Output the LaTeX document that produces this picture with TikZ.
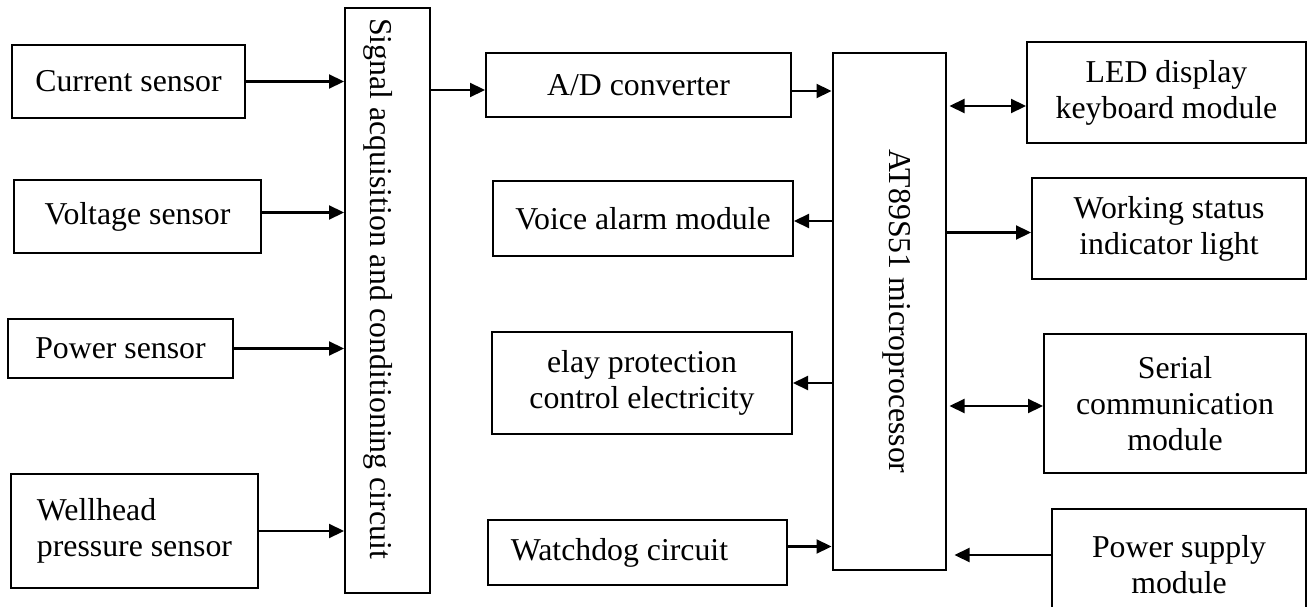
\documentclass[tikz,border=0pt]{standalone}
\usepackage{fontspec}
\setmainfont{Liberation Serif}
\usetikzlibrary{arrows.meta}
\tikzset{
  box/.style={draw, line width=2pt, inner sep=0pt, align=center,
    font=\fontsize{31.8}{36}\selectfont},
  txt/.style={inner sep=0pt, font=\fontsize{31.8}{36}\selectfont},
  tip/.style={Triangle[length=15pt,width=14pt]},
  arr/.style={line width=2.2pt, -{Triangle[length=15pt,width=14pt]}},
  darr/.style={line width=2.2pt, {Triangle[length=15pt,width=14pt]}-{Triangle[length=15pt,width=14pt]}},
}
\begin{document}
\begin{tikzpicture}[x=1pt,y=-1pt]
\useasboundingbox (0,0) rectangle (1307,607);

% sensors
\node[box, minimum width=233, minimum height=73] (cur) at (128.5,81.5) {Current sensor};
\node[box, minimum width=247, minimum height=73] (volt) at (137.5,216.5) {Voltage sensor};
\node[box, minimum width=225, minimum height=59] (pow) at (120.5,348.5) {Power sensor};
\node[box, align=left, minimum width=247, minimum height=114] (well) at (134.5,531) {Wellhead\\pressure sensor};

% signal conditioning
\node[box, minimum width=85, minimum height=585] (sig) at (387.5,300.5) {};
\node[txt, rotate=-90] (sigtxt) at ([xshift=-9.5pt, yshift=12pt]sig.center) {Signal acquisition and conditioning circuit};

% middle column
\node[box, minimum width=305, minimum height=64] (ad) at (638.5,85) {A/D converter};
\node[box, minimum width=300, minimum height=75] (voice) at (643,218.5) {Voice alarm module};
\node[box, minimum width=300, minimum height=102] (relay) at (642,383) {elay protection\\control electricity};
\node[box, minimum width=299, minimum height=65] (wd) at (637.5,552.5) {Watchdog circuit\hspace*{36pt}};

% microcontroller
\node[box, minimum width=113, minimum height=517] (mcu) at (889,311.5) {};
\node[txt, rotate=-90] (mcutxt) at ([xshift=8pt]mcu.center) {AT89S51 microprocessor};

% right column
\node[box, minimum width=279, minimum height=101] (led) at (1166.5,92.5) {LED display\\keyboard module};
\node[box, minimum width=274, minimum height=101] (work) at (1169,228.5) {Working status\\indicator light};
\node[box, minimum width=262, minimum height=139] (serial) at (1175,403.5) {Serial\\communication\\module};
\node[box, minimum width=254, minimum height=112] (psu) at (1179,565) {Power supply\\module};

% connections
\draw[arr] (cur.east) -- (cur.east -| sig.west);
\draw[arr] ([yshift=4pt]volt.east) -- ([yshift=4pt]volt.east -| sig.west);
\draw[arr] (pow.east) -- (pow.east -| sig.west);
\draw[arr] (well.east) -- (well.east -| sig.west);
\draw[arr] ([yshift=-5pt]ad.west -| sig.east) -- ([yshift=-5pt]ad.west);
\draw[arr] ([yshift=-6pt]ad.east) -- ([yshift=-6pt]ad.east -| mcu.west);
\draw[arr] ([yshift=-2.5pt]voice.east -| mcu.west) -- ([yshift=-2.5pt]voice.east);
\draw[arr] (relay.east -| mcu.west) -- (relay.east);
\draw[arr] ([yshift=6pt]wd.east) -- ([yshift=6pt]wd.east -| mcu.west);
\draw[darr, shorten <=3pt] ([yshift=-13.5pt]led.west -| mcu.east) -- ([yshift=-13.5pt]led.west);
\draw[arr] ([yshift=-4pt]work.west -| mcu.east) -- ([yshift=-4pt]work.west);
\draw[darr, shorten <=3pt] ([yshift=-2.5pt]serial.west -| mcu.east) -- ([yshift=-2.5pt]serial.west);
\draw[arr, shorten >=8pt] ([yshift=10pt]psu.west) -- ([yshift=10pt]psu.west -| mcu.east);
\end{tikzpicture}
\end{document}
